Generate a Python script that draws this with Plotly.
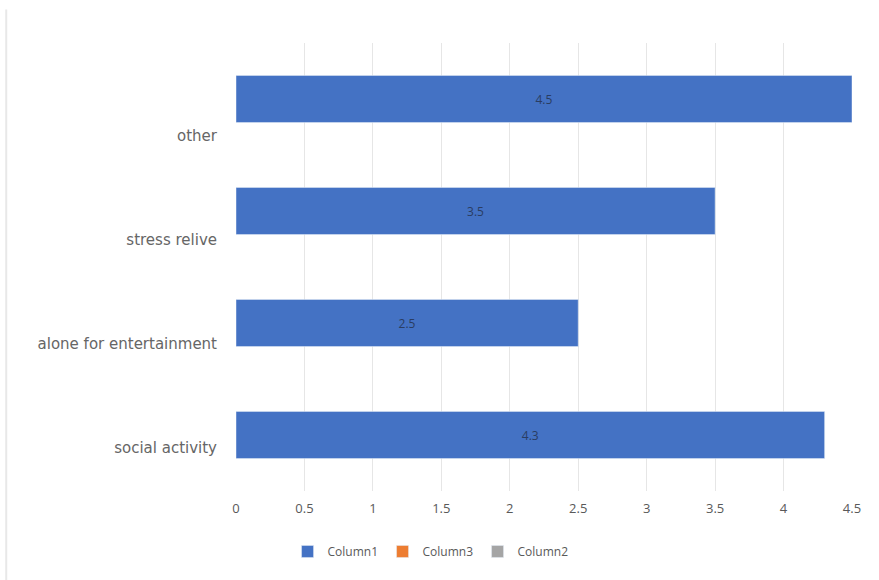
import plotly.graph_objects as go

categories = ["social activity", "alone for entertainment", "stress relive", "other"]
column1 = [4.3, 2.5, 3.5, 4.5]
legend_series = ["Column1", "Column3", "Column2"]
legend_colors = ["#4472C4", "#ED7D31", "#A5A5A5"]
x_ticks = [0, 0.5, 1, 1.5, 2, 2.5, 3, 3.5, 4, 4.5]

fig = go.Figure()
fig.add_trace(go.Bar(
    y=categories, x=column1, orientation="h", name=legend_series[0],
    marker=dict(color=legend_colors[0]),
    text=[str(v) for v in column1], textposition="inside",
    insidetextanchor="middle",
    textfont=dict(color="#2a3d62", size=12, family="Open Sans"),
))
for name, col in zip(legend_series[1:], legend_colors[1:]):
    fig.add_trace(go.Bar(y=categories, x=[None] * len(categories), orientation="h",
                         name=name, marker=dict(color=col), yaxis="y2"))

fig.update_layout(
    width=879, height=580,
    margin=dict(l=236, r=27, t=43, b=89),
    barmode="overlay", bargap=0.58,
    plot_bgcolor="white", paper_bgcolor="white",
    font=dict(family="Open Sans", color="#595959", size=13),
    showlegend=True,
    legend=dict(orientation="h", x=0.315, xanchor="center", y=-0.135, yanchor="middle",
                font=dict(size=12, color="#595959"), itemwidth=30,
                entrywidth=50, entrywidthmode="pixels", traceorder="normal"),
    xaxis=dict(range=[0, 4.5], tickvals=x_ticks, ticktext=[str(t) for t in x_ticks],
               showgrid=True, gridcolor="#E6E6E6", gridwidth=1, zeroline=False,
               showline=False, ticks="", ticklabelstandoff=8,
               tickfont=dict(size=13, color="#595959")),
    yaxis=dict(type="category", categoryorder="array", categoryarray=categories,
               range=[-0.5, 3.5], showgrid=False, zeroline=False,
               showline=False, ticks="", showticklabels=False),
    yaxis2=dict(type="category", categoryorder="array", categoryarray=categories,
                overlaying="y", side="left", range=[-0.42, 3.89],
                showgrid=False, zeroline=False, showline=False, ticks="",
                ticklabelstandoff=18,
                tickfont=dict(size=15, color="#666666", family="DejaVu Sans")),
    shapes=[dict(type="line", xref="paper", yref="paper", x0=-0.373, x1=-0.373,
                 y0=-0.2, y1=1.075, line=dict(color="#E8E8E8", width=2))],
)
fig.write_html("out.html")
